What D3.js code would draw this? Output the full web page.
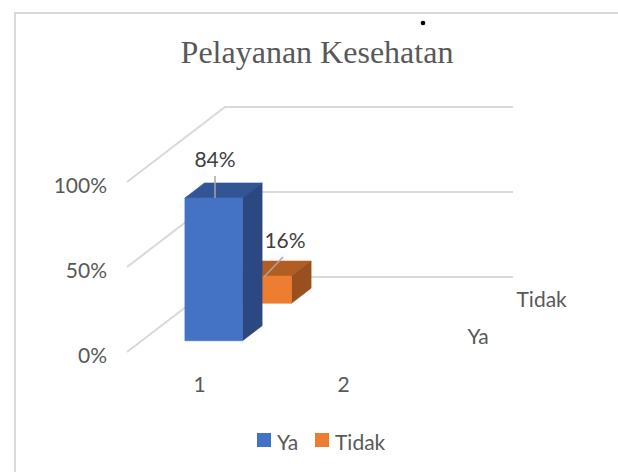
<!DOCTYPE html>
<html>
<head>
<meta charset="utf-8">
<script src="https://cdn.jsdelivr.net/npm/d3@7"></script>
<style>
  html, body { margin: 0; padding: 0; background: #fff; }
  svg { display: block; }
  text { font-family: Lato, "Open Sans", sans-serif; fill: #595959; }
</style>
</head>
<body>
<svg id="chart" width="618" height="472"></svg>
<script>
const title = "Pelayanan Kesehatan";
const categories = [1, 2];
const seriesNames = ["Ya", "Tidak"];
const yaValues = [0.84, null];
const tidakValues = [0.16, null];
const yTicks = [0, 0.5, 1];

const seriesColors = {
  Ya: { front: "#4472c4", top: "#325594", side: "#2b4880" },
  Tidak: { front: "#ed7d31", top: "#b25e23", side: "#9a501e" }
};

const svg = d3.select("#chart");

// oblique 3d: front plane + depth shift going up and right
const x = d3.scaleBand().domain(categories).range([127, 415]).paddingInner(0).paddingOuter(0);
const y = d3.scaleLinear().domain([0, 1]).range([352, 182]);
const depth = d3.scaleBand().domain(seriesNames).range([0, 98]);
const depthSlope = 75 / 98;

const barFrac = 0.4;
const px = (xv, d) => xv + d;
const py = (yv, d) => yv - d * depthSlope;
const poly = pts => pts.map(p => p.join(",")).join(" ");

// chart frame, only top and left show in the picture
svg.append("line").attr("x1", 15).attr("x2", 618).attr("y1", 13).attr("y2", 13)
  .attr("stroke", "#d9d9d9").attr("stroke-width", 2);
svg.append("line").attr("x1", 15).attr("x2", 15).attr("y1", 12).attr("y2", 472)
  .attr("stroke", "#d9d9d9").attr("stroke-width", 2);

svg.append("circle").attr("cx", 423).attr("cy", 23).attr("r", 2.3).attr("fill", "#000");

svg.append("text")
  .attr("x", 317).attr("y", 63)
  .attr("text-anchor", "middle")
  .style("font-family", "'Liberation Serif', serif")
  .style("font-size", "32px")
  .text(title);

// gridlines: wall on the left, then back wall
const x0 = x.range()[0];
const x1 = x.range()[1];
const dMax = depth.range()[1];
svg.append("g").selectAll("polyline")
  .data(yTicks)
  .enter()
  .append("polyline")
  .attr("points", t => poly([
    [px(x0, 0), py(y(t), 0)],
    [px(x0, dMax), py(y(t), dMax)],
    [px(x1, dMax), py(y(t), dMax)]
  ]))
  .attr("fill", "none")
  .attr("stroke", "#d9d9d9")
  .attr("stroke-width", 2);

// value axis
const yAxis = d3.axisLeft(y).tickValues(yTicks).tickFormat(d3.format(".0%")).tickSize(0).tickPadding(0);
const yG = svg.append("g").attr("transform", "translate(107,4)").call(yAxis);
yG.select(".domain").remove();
yG.selectAll("text").style("font-size", "21px").style("font-family", null).attr("fill", null);

// category axis
const xAxis = d3.axisBottom(x).tickSize(0).tickPadding(0);
const xG = svg.append("g").attr("transform", "translate(0.5,377)").call(xAxis);
xG.select(".domain").remove();
xG.selectAll("text").style("font-size", "21px").style("font-family", null).attr("fill", null);

// series names on the depth axis
svg.append("g").selectAll("text")
  .data(seriesNames)
  .enter()
  .append("text")
  .attr("x", s => px(x1 + 28, depth(s) + depth.bandwidth() / 2))
  .attr("y", s => py(y(0) + 11, depth(s) + depth.bandwidth() / 2))
  .style("font-size", "21px")
  .text(s => s);

// bars, back series first so the front one covers it
function drawBar(g, cat, value, name) {
  if (value == null) return;
  const w = x.bandwidth() * barFrac;
  const xa = x(cat) + (x.bandwidth() - w) / 2;
  const xb = xa + w;
  const dw = depth.bandwidth() * barFrac;
  const da = depth(name) + (depth.bandwidth() - dw) / 2;
  const db = da + dw;
  const yb = y(0);
  const yt = y(value);
  const c = seriesColors[name];
  // same colour stroke closes the seams between faces
  g.append("polygon").attr("fill", c.top).attr("stroke", c.top).attr("stroke-width", 0.6).attr("points", poly([
    [px(xa, da), py(yt, da)], [px(xb, da), py(yt, da)],
    [px(xb, db), py(yt, db)], [px(xa, db), py(yt, db)]
  ]));
  g.append("polygon").attr("fill", c.side).attr("stroke", c.side).attr("stroke-width", 0.6).attr("points", poly([
    [px(xb, da), py(yt, da)], [px(xb, db), py(yt, db)],
    [px(xb, db), py(yb, db)], [px(xb, da), py(yb, da)]
  ]));
  g.append("polygon").attr("fill", c.front).attr("stroke", c.front).attr("stroke-width", 0.6).attr("points", poly([
    [px(xa, da), py(yt, da)], [px(xb, da), py(yt, da)],
    [px(xb, da), py(yb, da)], [px(xa, da), py(yb, da)]
  ]));
}

const bars = svg.append("g");
categories.forEach((cat, i) => {
  drawBar(bars, cat, tidakValues[i], "Tidak");
  drawBar(bars, cat, yaValues[i], "Ya");
});

// data labels with leader lines
const fmt = d3.format(".0%");
const labelG = svg.append("g");
function dataLabel(value, lx1, ly1, lx2, ly2, tx, ty) {
  labelG.append("line")
    .attr("x1", lx1).attr("y1", ly1).attr("x2", lx2).attr("y2", ly2)
    .attr("stroke", "#a6a6a6").attr("stroke-width", 1.5);
  labelG.append("text")
    .attr("x", tx).attr("y", ty)
    .attr("text-anchor", "middle")
    .style("font-size", "21px")
    .style("fill", "#404040")
    .text(fmt(value));
}
dataLabel(yaValues[0], 215, 176, 215, 198, 215, 167);
dataLabel(tidakValues[0], 283, 257, 264, 277, 285, 248);

// legend
const legendX = { Ya: 257, Tidak: 315 };
const legend = svg.append("g").selectAll("g")
  .data(seriesNames)
  .enter()
  .append("g")
  .attr("transform", s => `translate(${legendX[s]},433)`);
legend.append("rect")
  .attr("width", 14).attr("height", 14)
  .attr("fill", s => seriesColors[s].front);
legend.append("text")
  .attr("x", 20).attr("y", 17)
  .style("font-size", "21px")
  .text(s => s);
</script>
</body>
</html>
